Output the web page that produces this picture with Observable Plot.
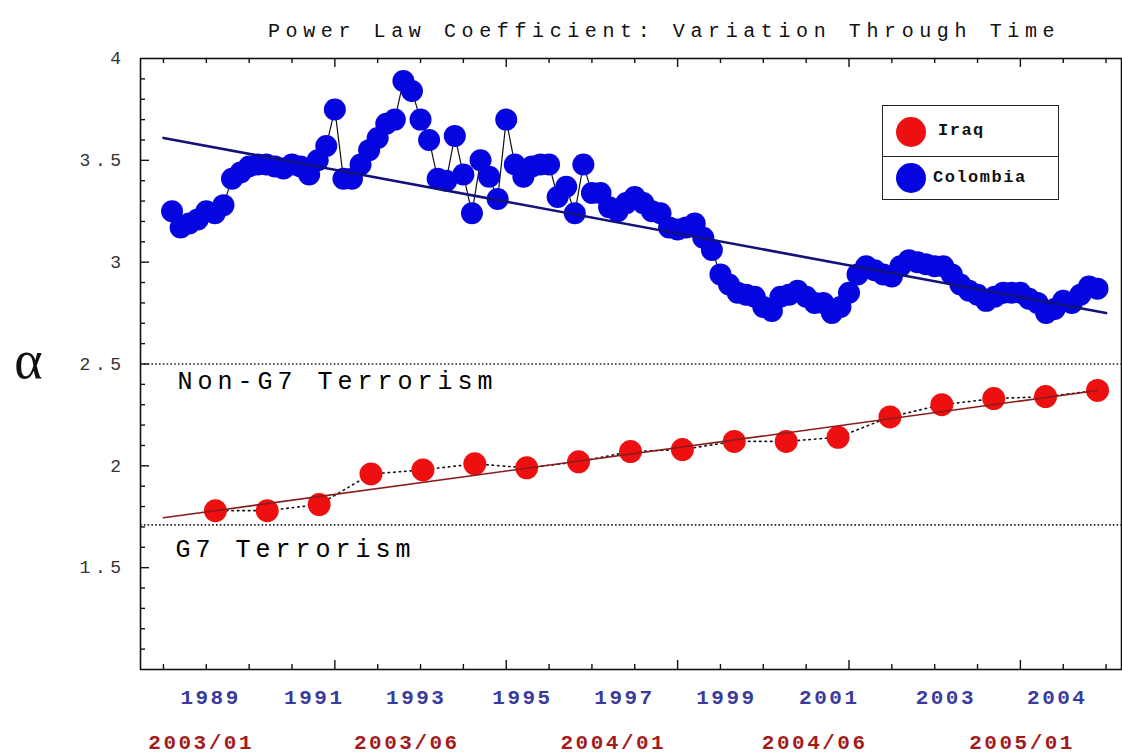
<!DOCTYPE html>
<html>
<head>
<meta charset="utf-8">
<script src="https://cdn.jsdelivr.net/npm/d3@7"></script>
<script src="https://cdn.jsdelivr.net/npm/@observablehq/plot@0.6"></script>
<style>
  body { margin: 0; background: #fff; }
  #wrap { position: relative; width: 1122px; height: 754px; overflow: hidden; background: #fff; }
  #title { position: absolute; left: 268px; top: 22px; font-family: 'Liberation Mono', 'DejaVu Sans Mono', monospace; font-size: 20px; line-height: 20px; letter-spacing: 5.6px; color: #111; white-space: nowrap; }
  #chart { position: absolute; left: 0; top: 45px; }
  #legend { position: absolute; left: 882px; top: 105px; width: 175px; height: 93px; border: 1.5px solid #222; background: #fff; font-family: 'Liberation Mono', 'DejaVu Sans Mono', monospace; font-weight: bold; font-size: 17px; letter-spacing: 1.5px; color: #111; }
  #legend .row { position: absolute; left: 0; width: 175px; height: 46px; }
  #legend .row1 { top: 0; border-bottom: 1.5px solid #222; height: 50px; }
  #legend .row2 { top: 51px; height: 42px; }
  #legend .dot { position: absolute; left: 13px; width: 30px; height: 30px; border-radius: 50%; }
  #legend .lab { position: absolute; white-space: nowrap; }
</style>
</head>
<body>
<div id="wrap">
  <div id="title">Power Law Coefficient: Variation Through Time</div>
  <div id="chart"></div>
  <div id="legend">
    <div class="row row1"><div class="dot" style="top:11px;background:#ee1010"></div><div class="lab" style="left:55px;top:15px">Iraq</div></div>
    <div class="row row2"><div class="dot" style="top:6px;background:#0505e0"></div><div class="lab" style="left:50px;top:11px">Colombia</div></div>
  </div>
</div>
<script>
// ---- data ----
const colombiaAlpha = [
  3.25, 3.17, 3.19, 3.21, 3.25, 3.24, 3.28, 3.41, 3.44, 3.47,
  3.48, 3.48, 3.47, 3.46, 3.48, 3.47, 3.43, 3.50, 3.57, 3.75,
  3.41, 3.41, 3.48, 3.55, 3.61, 3.68, 3.70, 3.89, 3.84, 3.70,
  3.60, 3.41, 3.40, 3.62, 3.43, 3.24, 3.50, 3.42, 3.31, 3.70,
  3.48, 3.42, 3.47, 3.48, 3.48, 3.32, 3.37, 3.24, 3.48, 3.34,
  3.34, 3.27, 3.25, 3.29, 3.32, 3.29, 3.25, 3.24, 3.17, 3.16,
  3.17, 3.19, 3.12, 3.06, 2.94, 2.89, 2.85, 2.84, 2.83, 2.78,
  2.76, 2.83, 2.84, 2.86, 2.83, 2.80, 2.80, 2.75, 2.78, 2.85,
  2.94, 2.98, 2.96, 2.94, 2.93, 2.98, 3.01, 3.00, 2.99, 2.98,
  2.98, 2.94, 2.89, 2.86, 2.84, 2.81, 2.83, 2.85, 2.85, 2.85,
  2.82, 2.80, 2.75, 2.77, 2.81, 2.80, 2.84, 2.88, 2.87
];
const iraqAlpha = [1.78, 1.78, 1.81, 1.96, 1.98, 2.01, 1.99, 2.02, 2.07, 2.08, 2.12, 2.12, 2.14, 2.24, 2.30, 2.33, 2.34, 2.37];
const iraqPos = [6.06, 12.11, 18.17, 24.22, 30.28, 36.33, 42.39, 48.44, 54.5, 60.56, 66.61, 72.67, 78.72, 84.78, 90.83, 96.89, 102.94, 109];

const colombiaFitX = [0, 110];
const colombiaFit = [3.61, 2.75];
const iraqFitX = [0, 109];
const iraqFit = [1.745, 2.37];

const thresholdNames = ["Non-G7 Terrorism", "G7 Terrorism"];
const thresholdValues = [2.5, 1.71];

const yearLabels = ["1989", "1991", "1993", "1995", "1997", "1999", "2001", "2003", "2004"];
const yearPos = [5.5, 17.6, 29.5, 41.9, 53.8, 65.7, 77.7, 91.3, 104.3];
const dateLabels = ["2003/01", "2003/06", "2004/01", "2004/06", "2005/01"];
const datePos = [4.4, 28.4, 52.5, 76.0, 100.2];

const yTickLabels = [1.5, 2, 2.5, 3, 3.5, 4];
const yMajorTicks = [1.5, 2, 2.5, 3, 3.5];
const yMinorTicks = [1.1,1.2,1.3,1.4,1.6,1.7,1.8,1.9,2.1,2.2,2.3,2.4,2.6,2.7,2.8,2.9,3.1,3.2,3.3,3.4,3.6,3.7,3.8,3.9];
const xMajorTicks = [20, 40, 60, 80, 100];
const xMinorTicks = [0, 5, 10, 15, 25, 30, 35, 45, 50, 55, 65, 70, 75, 85, 90, 95, 105, 110];

// ---- build ----
const colombia = colombiaAlpha.map((v, i) => ({x: i + 1, y: v}));
const iraq = iraqAlpha.map((v, i) => ({x: iraqPos[i], y: v}));
const colFit = colombiaFitX.map((x, i) => ({x, y: colombiaFit[i]}));
const irqFit = iraqFitX.map((x, i) => ({x, y: iraqFit[i]}));
const thresholds = thresholdNames.map((n, i) => ({name: n, y: thresholdValues[i]}));
const yearMap = new Map(yearPos.map((p, i) => [p, yearLabels[i]]));
const dateMap = new Map(datePos.map((p, i) => [p, dateLabels[i]]));

const W = 1122, H = 709, mT = 13, mB = 85, mL = 140, mR = 1;
const fH = H - mT - mB, fW = W - mL - mR;
const mono = "'Liberation Mono', 'DejaVu Sans Mono', monospace";

const chart = Plot.plot({
  width: W, height: H,
  marginTop: mT, marginBottom: mB, marginLeft: mL, marginRight: mR,
  style: {background: "#fff", overflow: "visible"},
  x: {domain: [-2.68, 111.8], label: null},
  y: {domain: [1, 4], label: null},
  marks: [
    // threshold dotted lines
    Plot.ruleY(thresholds, {y: "y", stroke: "#222", strokeWidth: 1.6, strokeDasharray: "1.6,2.2"}),
    Plot.text(thresholds.slice(0, 1), {y: "y", text: "name", frameAnchor: "left", textAnchor: "start", dx: 37, dy: 17, fontFamily: mono, fontSize: 25, fill: "#000"}),
    Plot.text(thresholds.slice(1), {y: "y", text: "name", frameAnchor: "left", textAnchor: "start", dx: 35, dy: 24, fontFamily: mono, fontSize: 25, fill: "#000"}),
    // Iraq
    Plot.line(iraq, {x: "x", y: "y", stroke: "#111", strokeWidth: 1.6, strokeDasharray: "1.5,4"}),
    Plot.dot(iraq, {x: "x", y: "y", r: 11.5, fill: "#ee1010", stroke: "none"}),
    Plot.line(irqFit, {x: "x", y: "y", stroke: "#8a1c1c", strokeWidth: 1.6}),
    // Colombia
    Plot.line(colombia, {x: "x", y: "y", stroke: "#111", strokeWidth: 1.2}),
    Plot.dot(colombia, {x: "x", y: "y", r: 11, fill: "#0505e0", stroke: "none"}),
    Plot.line(colFit, {x: "x", y: "y", stroke: "#12127a", strokeWidth: 2.6}),
    // frame and inward ticks
    Plot.frame({stroke: "#111", strokeWidth: 1.6}),
    Plot.tickX(xMinorTicks, {x: d => d, insetTop: fH - 5, stroke: "#111", strokeWidth: 1.4}),
    Plot.tickX(xMajorTicks, {x: d => d, insetTop: fH - 9, stroke: "#111", strokeWidth: 1.4}),
    Plot.tickX(xMinorTicks, {x: d => d, insetBottom: fH - 5, stroke: "#111", strokeWidth: 1.4}),
    Plot.tickX(xMajorTicks, {x: d => d, insetBottom: fH - 9, stroke: "#111", strokeWidth: 1.4}),
    Plot.tickY(yMinorTicks, {y: d => d, insetRight: fW - 5, stroke: "#111", strokeWidth: 1.4}),
    Plot.tickY(yMajorTicks, {y: d => d, insetRight: fW - 9, stroke: "#111", strokeWidth: 1.4}),
    // axes labels
    Plot.axisY({ticks: yTickLabels, tickSize: 0, tickPadding: 15, tickFormat: d => String(d), fontFamily: mono, fontSize: 18, fill: "#333", label: null}),
    Plot.axisX({ticks: yearPos, tickSize: 0, tickPadding: 20, tickFormat: d => yearMap.get(d), fontFamily: mono, fontSize: 21, fontWeight: "bold", fill: "#3b3b9e", label: null}),
    Plot.axisX({ticks: datePos, tickSize: 0, tickPadding: 65, tickFormat: d => dateMap.get(d), fontFamily: mono, fontSize: 21, fontWeight: "bold", fill: "#a31c1c", label: null}),
    // alpha symbol
    Plot.text([{s: "α", y: 2.5}], {y: "y", text: "s", frameAnchor: "left", textAnchor: "middle", dx: -112, dy: -3, fontFamily: "'Liberation Serif', 'DejaVu Serif', serif", fontSize: 54, fill: "#111"})
  ]
});

// letter spacing (monospace wide rendering)
d3.select(chart).selectAll('g[aria-label="y-axis tick label"] text').style("letter-spacing", "4.5px");
d3.select(chart).selectAll('g[aria-label="x-axis tick label"] text').style("letter-spacing", "2.5px");
d3.select(chart).selectAll('g[aria-label="text"] text').filter(function() { return this.textContent !== "α"; }).style("letter-spacing", "5px");

document.getElementById("chart").appendChild(chart);
</script>
</body>
</html>
